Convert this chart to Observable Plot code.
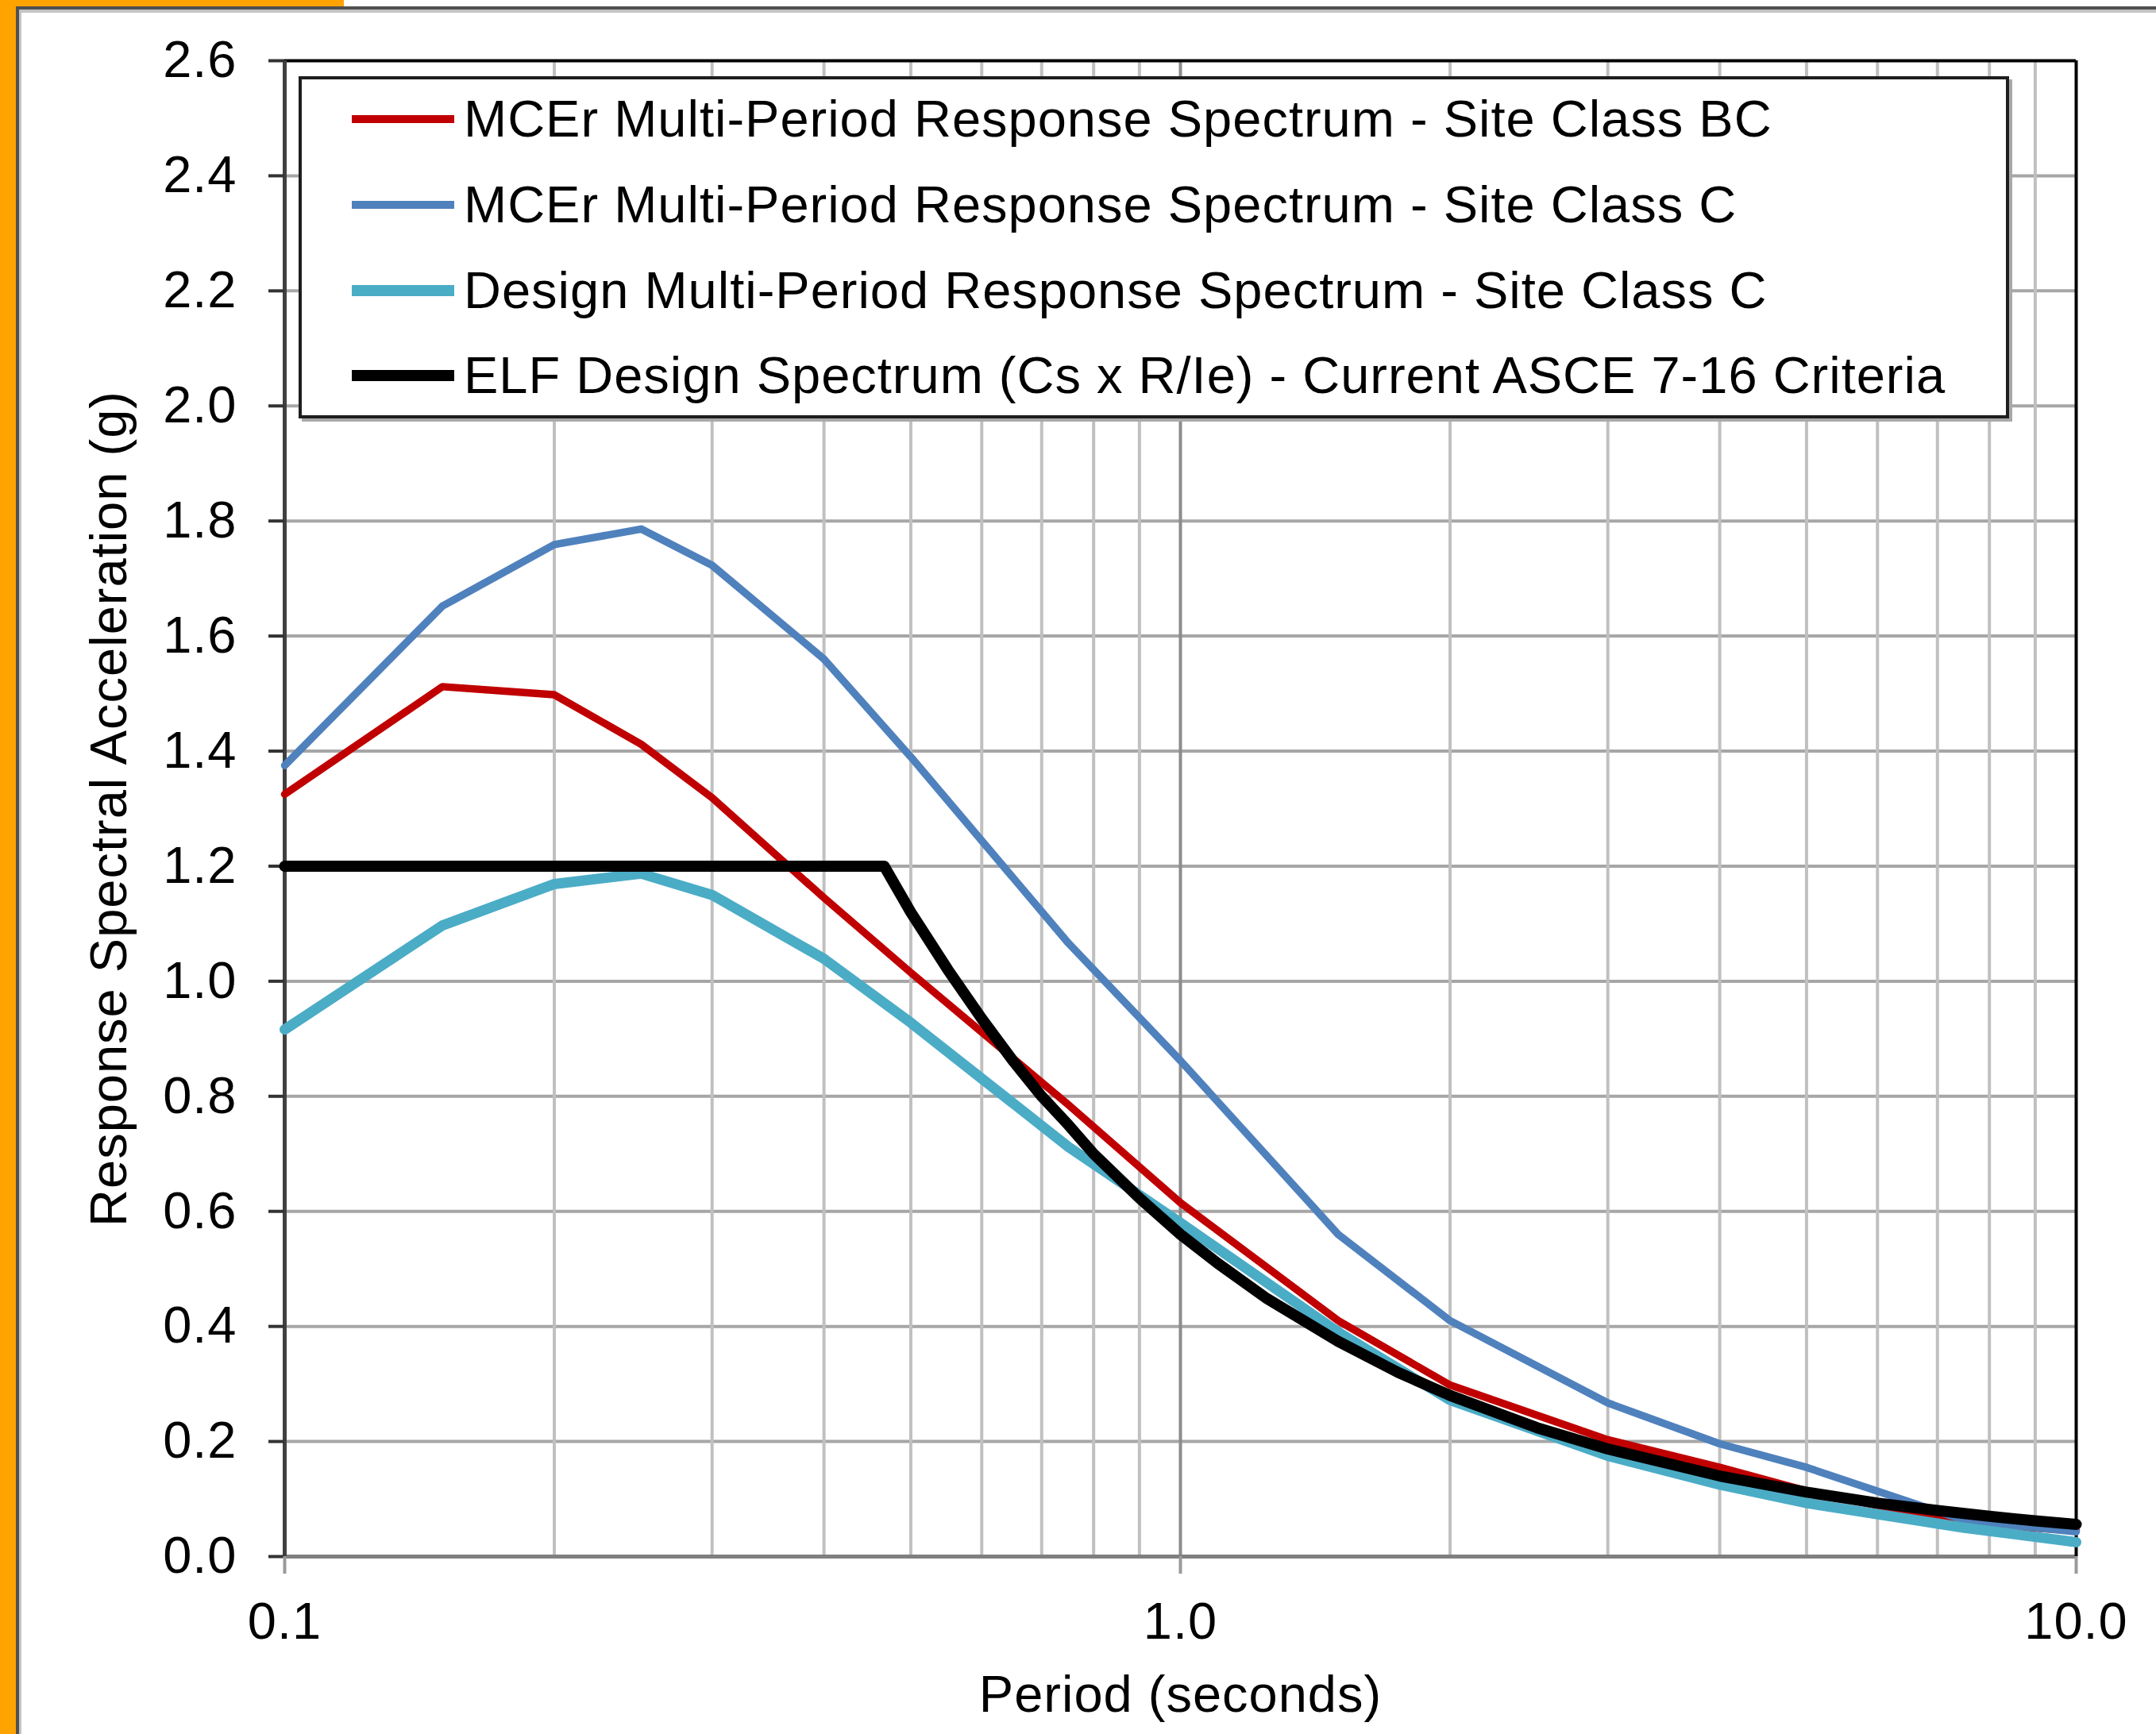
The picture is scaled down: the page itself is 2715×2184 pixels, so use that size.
<!DOCTYPE html>
<html>
<head>
<meta charset="utf-8">
<script src="https://cdn.jsdelivr.net/npm/d3@7"></script>
<script src="https://cdn.jsdelivr.net/npm/@observablehq/plot@0.6"></script>
<style>
  html, body { margin: 0; padding: 0; background: #fff; }
  #wrap { position: relative; width: 2715px; height: 2184px; overflow: hidden; background: #fff;
          font-family: "Liberation Sans", Arial, sans-serif; }
  #wrap svg { position: absolute; left: 0; top: 0; }
  #wrap svg text { letter-spacing: 1px; }
  .bar { position: absolute; }
  #legend { position: absolute; left: 376px; top: 96px; width: 2154px; height: 431px; box-sizing: border-box;
            background: #fff; border: 4px solid #1e1e1e; box-shadow: 4px 4px 0 #a8a8a8; }
  .row { position: absolute; left: 0; height: 108px; width: 100%; }
  .sw { position: absolute; left: 63px; width: 129px; }
  .lab { position: absolute; left: 204px; top: 0; line-height: 108px; font-size: 65px; letter-spacing: 1px;
         color: #000; white-space: nowrap; }
</style>
</head>
<body>
<div id="wrap"></div>
<script>
// ---- data ----
const periods = [0.1, 0.15, 0.2, 0.25, 0.3, 0.4, 0.5, 0.75, 1.0, 1.5, 2.0, 3.0, 4.0, 5.0, 7.5, 10.0];
const mcerBC   = [1.325, 1.512, 1.498, 1.412, 1.319, 1.145, 1.015, 0.785, 0.615, 0.41, 0.298, 0.203, 0.155, 0.114, 0.058, 0.045];
const mcerC    = [1.375, 1.652, 1.759, 1.786, 1.723, 1.56, 1.39, 1.066, 0.862, 0.56, 0.41, 0.267, 0.196, 0.155, 0.063, 0.043];
const designC  = [0.916, 1.097, 1.169, 1.187, 1.15, 1.039, 0.928, 0.712, 0.58, 0.39, 0.272, 0.175, 0.125, 0.093, 0.05, 0.025];
const elfPeriods = [0.1, 0.467, 0.5, 0.55, 0.6, 0.65, 0.7, 0.75, 0.8, 0.9, 1.0, 1.1, 1.25, 1.5, 1.75, 2.0, 2.5, 3.0, 4.0, 5.0, 6.0, 7.0, 8.0, 9.0, 10.0];
const elfValues  = [1.2, 1.2, 1.12, 1.02, 0.935, 0.862, 0.80, 0.75, 0.70, 0.623, 0.56, 0.51, 0.448, 0.374, 0.32, 0.28, 0.224, 0.187, 0.14, 0.112, 0.093, 0.08, 0.07, 0.062, 0.056];

const seriesNames = [
  "MCEr Multi-Period Response Spectrum - Site Class BC",
  "MCEr Multi-Period Response Spectrum - Site Class C",
  "Design Multi-Period Response Spectrum - Site Class C",
  "ELF Design Spectrum (Cs x R/Ie) - Current ASCE 7-16 Criteria"
];
const seriesColors = ["#C00000", "#4F81BD", "#4BACC6", "#000000"];
const seriesWidths = [9.5, 9.5, 13, 14];
const legendWidths = [10, 10, 14, 14];

const yTicks = [0, 0.2, 0.4, 0.6, 0.8, 1.0, 1.2, 1.4, 1.6, 1.8, 2.0, 2.2, 2.4, 2.6];
const yGrid = [0.2, 0.4, 0.6, 0.8, 1.0, 1.2, 1.4, 1.6, 1.8, 2.0, 2.2, 2.4];
const xTicks = [0.1, 1.0, 10.0];
const xMinor = [0.2, 0.3, 0.4, 0.5, 0.6, 0.7, 0.8, 0.9, 2, 3, 4, 5, 6, 7, 8, 9];
const xLabel = "Period (seconds)";
const yLabel = "Response Spectral Acceleration (g)";

const toRows = (xs, ys) => xs.map((x, i) => ({period: x, value: ys[i]}));
const tables = [toRows(periods, mcerBC), toRows(periods, mcerC), toRows(periods, designC), toRows(elfPeriods, elfValues)];

const chart = Plot.plot({
  width: 2715,
  height: 2184,
  marginLeft: 358,
  marginRight: 101,
  marginTop: 76,
  marginBottom: 224,
  style: {fontFamily: '"Liberation Sans", Arial, sans-serif', fontSize: "65px", background: "transparent", color: "#000", overflow: "visible"},
  x: {type: "log", domain: [0.1, 10]},
  y: {domain: [0, 2.6]},
  marks: [
    Plot.ruleY(yGrid, {stroke: "#a6a6a6", strokeWidth: 4}),
    Plot.ruleX(xMinor, {stroke: "#c0c0c0", strokeWidth: 4}),
    Plot.ruleX([1.0], {stroke: "#8c8c8c", strokeWidth: 4}),
    Plot.ruleY([0], {stroke: "#808080", strokeWidth: 5}),
    Plot.ruleY([2.6], {stroke: "#000", strokeWidth: 4}),
    Plot.ruleX([10], {stroke: "#000", strokeWidth: 4}),
    Plot.ruleX([0.1], {stroke: "#404040", strokeWidth: 5}),
    Plot.axisY({ticks: yTicks, tickSize: 20, tickPadding: 40, tickFormat: d => d.toFixed(1),
                stroke: "#333", strokeWidth: 4, fill: "#000", label: null}),
    Plot.axisX({ticks: xTicks, tickSize: 22, tickPadding: 35, tickFormat: d => d.toFixed(1),
                stroke: "#9a9a9a", strokeWidth: 4, fill: "#000", label: null}),
    ...tables.map((t, i) => Plot.line(t, {x: "period", y: "value", stroke: seriesColors[i], strokeWidth: seriesWidths[i]})),
    Plot.text([yLabel], {text: d => d, frameAnchor: "left", textAnchor: "middle", lineAnchor: "middle", dx: -220, rotate: -90, fill: "#000"}),
    Plot.text([xLabel], {text: d => d, frameAnchor: "bottom", textAnchor: "middle", lineAnchor: "middle", dy: 175, fill: "#000"})
  ]
});

const wrap = document.getElementById("wrap");
wrap.appendChild(chart);

// window border (orange selection edge and dark frame lines)
const bars = [
  {l: 0, t: 0, w: 20, h: 2184, c: "#FFA300"},
  {l: 0, t: 0, w: 433, h: 8, c: "#FFA300"},
  {l: 20, t: 8, w: 2695, h: 4, c: "#505050"},
  {l: 24, t: 12, w: 2691, h: 4, c: "#c4c4c4"},
  {l: 20, t: 8, w: 4, h: 2176, c: "#505050"},
  {l: 24, t: 12, w: 3, h: 2172, c: "#c4c4c4"}
];
for (const b of bars) {
  const d = document.createElement("div");
  d.className = "bar";
  d.style.cssText = `left:${b.l}px;top:${b.t}px;width:${b.w}px;height:${b.h}px;background:${b.c};`;
  wrap.appendChild(d);
}

// legend
const legend = document.createElement("div");
legend.id = "legend";
const rowTops = [-4, 104, 212, 319];
seriesNames.forEach((name, i) => {
  const row = document.createElement("div");
  row.className = "row";
  row.style.top = rowTops[i] + "px";
  const sw = document.createElement("div");
  sw.className = "sw";
  sw.style.background = seriesColors[i];
  sw.style.height = legendWidths[i] + "px";
  sw.style.top = (54 - legendWidths[i] / 2) + "px";
  const lab = document.createElement("div");
  lab.className = "lab";
  lab.textContent = name;
  row.appendChild(sw);
  row.appendChild(lab);
  legend.appendChild(row);
});
wrap.appendChild(legend);
</script>
</body>
</html>
